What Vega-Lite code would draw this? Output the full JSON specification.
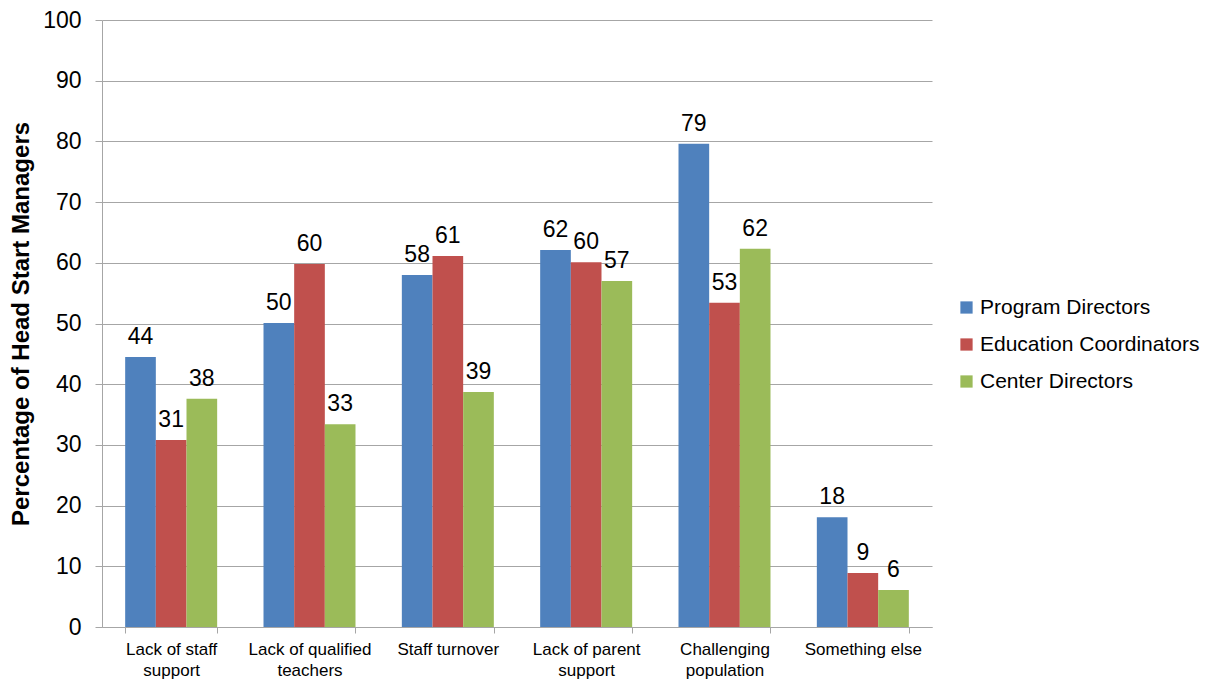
{
  "$schema": "https://vega.github.io/schema/vega-lite/v6.json",
  "autosize": {"type": "none"},
  "padding": {"left": 102, "top": 20, "right": 287, "bottom": 52},
  "width": 830,
  "height": 607,
  "background": "white",
  "config": {
    "view": {"stroke": null},
    "font": "Liberation Sans",
    "axis": {"labelFont": "Liberation Sans", "titleFont": "Liberation Sans", "labelColor": "#000000", "titleColor": "#000000"}
  },
  "data": {
    "values": [
      {"category": "Lack of staff support", "group": "Program Directors", "value": 44.5, "label": "44"},
      {"category": "Lack of staff support", "group": "Education Coordinators", "value": 30.8, "label": "31"},
      {"category": "Lack of staff support", "group": "Center Directors", "value": 37.6, "label": "38"},
      {"category": "Lack of qualified teachers", "group": "Program Directors", "value": 50.1, "label": "50"},
      {"category": "Lack of qualified teachers", "group": "Education Coordinators", "value": 59.8, "label": "60"},
      {"category": "Lack of qualified teachers", "group": "Center Directors", "value": 33.4, "label": "33"},
      {"category": "Staff turnover", "group": "Program Directors", "value": 58.0, "label": "58"},
      {"category": "Staff turnover", "group": "Education Coordinators", "value": 61.1, "label": "61"},
      {"category": "Staff turnover", "group": "Center Directors", "value": 38.7, "label": "39"},
      {"category": "Lack of parent support", "group": "Program Directors", "value": 62.1, "label": "62"},
      {"category": "Lack of parent support", "group": "Education Coordinators", "value": 60.1, "label": "60"},
      {"category": "Lack of parent support", "group": "Center Directors", "value": 57.0, "label": "57"},
      {"category": "Challenging population", "group": "Program Directors", "value": 79.6, "label": "79"},
      {"category": "Challenging population", "group": "Education Coordinators", "value": 53.4, "label": "53"},
      {"category": "Challenging population", "group": "Center Directors", "value": 62.3, "label": "62"},
      {"category": "Something else", "group": "Program Directors", "value": 18.1, "label": "18"},
      {"category": "Something else", "group": "Education Coordinators", "value": 8.9, "label": "9"},
      {"category": "Something else", "group": "Center Directors", "value": 6.1, "label": "6"}
    ]
  },
  "encoding": {
    "x": {
      "field": "category",
      "type": "nominal",
      "sort": null,
      "scale": {"paddingInner": 0.335, "paddingOuter": 0.1675},
      "axis": {
        "title": null,
        "labelAngle": 0,
        "labelFontSize": 17,
        "labelPadding": 8,
        "labelLineHeight": 21,
        "tickBand": "extent",
        "tickSize": 6,
        "tickColor": "#a6a6a6",
        "domainColor": "#a6a6a6",
        "grid": false,
        "labelExpr": "datum.label == 'Lack of staff support' ? ['Lack of staff', 'support'] : datum.label == 'Lack of qualified teachers' ? ['Lack of qualified', 'teachers'] : datum.label == 'Lack of parent support' ? ['Lack of parent', 'support'] : datum.label == 'Challenging population' ? ['Challenging', 'population'] : datum.label"
      }
    },
    "xOffset": {"field": "group", "type": "nominal", "sort": ["Program Directors", "Education Coordinators", "Center Directors"], "scale": {"paddingInner": 0, "paddingOuter": 0}},
    "y": {
      "field": "value",
      "type": "quantitative",
      "scale": {"domain": [0, 100], "nice": false},
      "axis": {
        "title": "Percentage of Head Start Managers",
        "titleFontSize": 24,
        "titleFontWeight": "bold",
        "titlePadding": 9,
        "values": [0, 10, 20, 30, 40, 50, 60, 70, 80, 90, 100],
        "labelFontSize": 23,
        "labelPadding": 14,
        "tickSize": 7,
        "tickColor": "#a6a6a6",
        "domainColor": "#a6a6a6",
        "gridColor": "#a6a6a6",
        "grid": true
      }
    }
  },
  "layer": [
    {
      "mark": {"type": "bar"},
      "encoding": {
        "color": {
          "field": "group",
          "type": "nominal",
          "sort": ["Program Directors", "Education Coordinators", "Center Directors"],
          "scale": {"domain": ["Program Directors", "Education Coordinators", "Center Directors"], "range": ["#4F81BD", "#C0504D", "#9BBB59"]},
          "legend": {
            "title": null,
            "orient": "none",
            "legendX": 854,
            "legendY": 277,
            "symbolType": "square",
            "symbolSize": 150,
            "labelFontSize": 21,
            "labelFont": "Liberation Sans",
            "labelColor": "#000000",
            "rowPadding": 15,
            "labelOffset": 3,
            "labelLimit": 400
          }
        }
      }
    },
    {
      "mark": {"type": "text", "baseline": "bottom", "dy": -8, "fontSize": 23, "color": "#000000"},
      "encoding": {"text": {"field": "label"}}
    }
  ]
}
